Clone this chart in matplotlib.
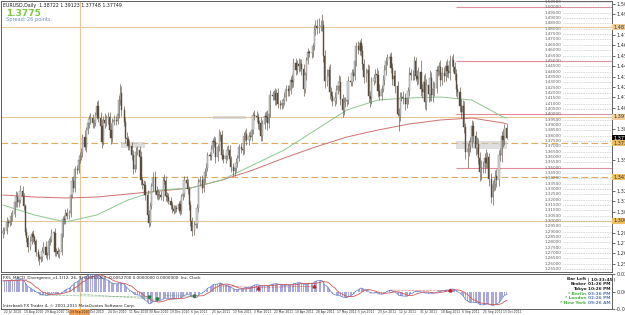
import numpy as np
import pandas as pd
import matplotlib
matplotlib.use("Agg")
import matplotlib.pyplot as plt
from matplotlib.patches import Rectangle

# ---------------- data ----------------
start_date = "2010-07-22"
end_date = "2011-10-17"

# warm-up closes (7 Jun - 21 Jul 2010), only used for the MACD
pre_closes = [1.1965, 1.1985, 1.1995, 1.2110, 1.2105, 1.2290, 1.2320, 1.2305, 1.2385, 1.2390,
              1.2300, 1.2290, 1.2315, 1.2305, 1.2380, 1.2275, 1.2195, 1.2235, 1.2515, 1.2570,
              1.2555, 1.2630, 1.2635, 1.2705, 1.2635, 1.2600, 1.2735, 1.2750, 1.2940, 1.2935,
              1.2945, 1.2880, 1.2770]

first_open = 1.2885
# daily closes, one row per week
closes = [
    1.2905, 1.2910,
    1.2990, 1.2985, 1.2995, 1.3045, 1.3065,
    1.3175, 1.3225, 1.3180, 1.3200, 1.3280,
    1.3230, 1.3140, 1.2895, 1.2840, 1.2755,
    1.2815, 1.2880, 1.2845, 1.2815, 1.2710,
    1.2665, 1.2645, 1.2665, 1.2720, 1.2760,
    1.2680, 1.2680, 1.2815, 1.2825, 1.2890,
    1.2890, 1.2710, 1.2720, 1.2690, 1.2710,
    1.2875, 1.3020, 1.3010, 1.3075, 1.3050,
    1.3070, 1.3240, 1.3370, 1.3310, 1.3490,
    1.3480, 1.3575, 1.3610, 1.3635, 1.3790,
    1.3690, 1.3850, 1.3920, 1.3955, 1.3960,
    1.3915, 1.3920, 1.3990, 1.4075, 1.3965,
    1.3885, 1.3740, 1.3950, 1.3920, 1.3950,
    1.3975, 1.3855, 1.3775, 1.3930, 1.3945,
    1.3935, 1.4000, 1.4130, 1.4200, 1.4035,
    1.3930, 1.3775, 1.3765, 1.3705, 1.3700,
    1.3620, 1.3490, 1.3525, 1.3650, 1.3665,
    1.3595, 1.3380, 1.3350, 1.3335, 1.3240,
    1.3055, 1.2985, 1.3140, 1.3325, 1.3405,
    1.3285, 1.3245, 1.3240, 1.3245, 1.3225,
    1.3385, 1.3375, 1.3230, 1.3225, 1.3190,
    1.3145, 1.3110, 1.3095, 1.3125, 1.3110,
    1.3155, 1.3095, 1.3230, 1.3255, 1.3380,
    1.3355, 1.3300, 1.3150, 1.3000, 1.2910,
    1.2965, 1.2975, 1.3125, 1.3365, 1.3380,
    1.3310, 1.3395, 1.3460, 1.3495, 1.3615,
    1.3610, 1.3675, 1.3745, 1.3740, 1.3595,
    1.3695, 1.3805, 1.3805, 1.3620, 1.3580,
    1.3605, 1.3660, 1.3665, 1.3580, 1.3505,
    1.3465, 1.3495, 1.3545, 1.3590, 1.3690,
    1.3670, 1.3665, 1.3795, 1.3810, 1.3755,
    1.3795, 1.3790, 1.3855, 1.3990, 1.3985,
    1.3975, 1.3905, 1.3915, 1.3795, 1.3905,
    1.3985, 1.3975, 1.3915, 1.4005, 1.4180,
    1.4170, 1.4200, 1.4135, 1.4195, 1.4095,
    1.4085, 1.4105, 1.4125, 1.4160, 1.4235,
    1.4215, 1.4225, 1.4325, 1.4300, 1.4480,
    1.4415, 1.4475, 1.4450, 1.4475, 1.4425,
    1.4235, 1.4365, 1.4505, 1.4580, 1.4570,
    1.4575, 1.4635, 1.4790, 1.4830, 1.4805,
    1.4825, 1.4830, 1.4835, 1.4545, 1.4315,
    1.4360, 1.4415, 1.4205, 1.4175, 1.4120,
    1.4150, 1.4230, 1.4265, 1.4305, 1.4145,
    1.4035, 1.4115, 1.4120, 1.4130, 1.4315,
    1.4305, 1.4385, 1.4360, 1.4495, 1.4635,
    1.4600, 1.4665, 1.4595, 1.4475, 1.4345,
    1.4390, 1.4410, 1.4175, 1.4140, 1.4310,
    1.4335, 1.4380, 1.4365, 1.4220, 1.4175,
    1.4240, 1.4320, 1.4410, 1.4500, 1.4530,
    1.4535, 1.4435, 1.4330, 1.4360, 1.4260,
    1.4000, 1.3990, 1.4165, 1.4165, 1.4155,
    1.4100, 1.4150, 1.4215, 1.4385, 1.4365,
    1.4370, 1.4500, 1.4360, 1.4330, 1.4395,
    1.4235, 1.4205, 1.4305, 1.4115, 1.4275,
    1.4185, 1.4335, 1.4180, 1.4235, 1.4245,
    1.4410, 1.4405, 1.4440, 1.4320, 1.4390,
    1.4355, 1.4450, 1.4405, 1.4385, 1.4495,
    1.4505, 1.4445, 1.4375, 1.4235, 1.4205,
    1.4080, 1.4020, 1.4075, 1.3880, 1.3650,
    1.3670, 1.3705, 1.3740, 1.3890, 1.3795,
    1.3685, 1.3720, 1.3590, 1.3455, 1.3500,
    1.3505, 1.3590, 1.3545, 1.3595, 1.3390,
    1.3225, 1.3340, 1.3345, 1.3420, 1.3380,
    1.3620, 1.3615, 1.3795, 1.3760, 1.3870,
    1.3775,
]

# upper / lower wick length in pips
wick_up = [
    40, 35,
    45, 30, 25, 40, 35,  40, 55, 45, 30, 60,  50, 30, 20, 35, 25,  40, 30, 35, 25, 20,
    30, 25, 45, 35, 40,  50, 30, 25, 35, 30,  20, 40, 30, 35, 25,  30, 25, 40, 35, 45,
    30, 35, 40, 50, 25,  30, 40, 35, 45, 25,  60, 30, 45, 35, 50,  40, 35, 30, 50, 60,
    55, 70, 35, 60, 40,  45, 50, 60, 35, 45,  40, 35, 50, 80, 60,  45, 40, 60, 35, 50,
    40, 45, 50, 40, 35,  40, 60, 30, 35, 40,  50, 45, 40, 35, 50,  60, 40, 50, 35, 40,
    30, 50, 45, 40, 35,  35, 30, 40, 25, 20,  30, 40, 25, 35, 40,  45, 40, 30, 35, 40,
    30, 45, 35, 40, 45,  50, 35, 40, 45, 30,  35, 40, 30, 50, 45,  30, 55, 40, 45, 50,
    35, 40, 45, 50, 30,  40, 35, 45, 30, 35,  40, 50, 35, 40, 60,  35, 45, 40, 30, 50,
    45, 40, 35, 60, 40,  35, 45, 60, 40, 50,  40, 30, 45, 40, 50,  35, 40, 30, 45, 40,
    40, 45, 35, 50, 45,  45, 35, 50, 40, 40,  50, 35, 30, 40, 25,  35, 30, 45, 50, 60,
    80, 50, 105, 45, 55, 60, 40, 55, 50, 45,  55, 40, 45, 60, 50,  40, 50, 45, 55, 40,
    45, 35, 40, 50, 40,  55, 30, 45, 50, 45,  40, 60, 55, 45, 35,  40, 45, 50, 45, 60,
    35, 45, 50, 40, 35,  40, 50, 45, 55, 50,  50, 60, 45, 40, 55,  45, 50, 40, 55, 35,
    40, 45, 40, 50, 45,  110, 50, 60, 80, 55, 60, 75, 65, 80, 55,  40, 50, 45, 70, 50,
    50, 45, 70, 60, 60,  40, 55, 45, 50, 45,  50, 60, 55, 50, 40,  60, 55, 50, 60, 45,
    50, 65, 55, 60, 70,  60, 50, 85, 55, 40,  60, 45, 55, 60, 70,  45, 60, 50, 70, 40,
    40,
]
wick_dn = [
    45, 30,
    30, 40, 35, 30, 45,  25, 40, 50, 45, 35,  40, 35, 30, 40, 50,  25, 35, 40, 30, 35,
    40, 58, 30, 45, 25,  30, 45, 35, 40, 25,  30, 35, 40, 30, 35,  25, 30, 35, 40, 30,
    35, 30, 25, 40, 35,  40, 35, 30, 40, 35,  30, 40, 35, 45, 50,  45, 40, 30, 35, 40,
    40, 55, 30, 45, 35,  40, 45, 50, 40, 35,  35, 30, 40, 45, 50,  40, 45, 50, 40, 35,
    45, 50, 35, 40, 30,  40, 45, 50, 35, 40,  40, 45, 35, 30, 40,  35, 40, 45, 35, 30,
    40, 35, 40, 45, 35,  30, 35, 30, 25, 30,  35, 40, 30, 35, 30,  40, 45, 50, 45, 50,
    40, 35, 45, 40, 35,  45, 40, 35, 40, 30,  40, 35, 40, 45, 50,  35, 40, 55, 45, 40,
    40, 35, 45, 40, 50,  45, 40, 35, 40, 30,  35, 50, 40, 45, 40,  40, 35, 45, 40, 35,
    45, 40, 55, 50, 45,  40, 45, 65, 40, 35,  35, 40, 50, 45, 40,  40, 35, 45, 40, 35,
    40, 45, 35, 50, 45,  45, 40, 50, 45, 55,  60, 35, 40, 35, 30,  40, 35, 30, 45, 50,
    40, 45, 50, 60, 70,  50, 45, 60, 55, 40,  45, 50, 40, 45, 55,  60, 45, 50, 40, 35,
    40, 45, 50, 35, 40,  40, 45, 50, 55, 50,  45, 50, 60, 70, 45,  40, 45, 50, 55, 45,
    40, 35, 45, 40, 35,  40, 45, 55, 50, 60,  20, 150, 50, 45, 55, 60, 45, 50, 40, 45,
    40, 45, 50, 55, 45,  60, 55, 50, 70, 80,  70, 60, 55, 65, 60,  45, 50, 40, 55, 45,
    50, 45, 55, 50, 60,  45, 50, 55, 60, 50,  55, 60, 50, 60, 70,  155, 60, 55, 50, 60,
    65, 55, 60, 80, 75,  55, 60, 50, 45, 65,  60, 80, 60, 55, 60,  50, 55, 60, 65, 45,
    10,
]

# moving averages sampled every 20 bars (plus the last bar)
ma_bars = [0, 20, 40, 60, 80, 100, 120, 140, 160, 180, 200, 220, 240, 260, 280, 300, 320, 322]
ma_slow = [1.3243, 1.3224, 1.3215, 1.3224, 1.3252, 1.3280, 1.3308, 1.3383, 1.3477,
           1.3590, 1.3693, 1.3786, 1.3852, 1.3908, 1.3946, 1.3964, 1.3918, 1.3908]
ma_fast = [1.3149, 1.3056, 1.2990, 1.3056, 1.3196, 1.3290, 1.3308, 1.3383, 1.3524,
           1.3665, 1.3852, 1.4039, 1.4133, 1.4152, 1.4161, 1.4133, 1.3974, 1.3964]

full_levels = [1.4815, 1.3975, 1.3000]        # tan lines
dashed_levels = [1.3730, 1.3410]              # orange dashed
pink_levels = [1.5000, 1.4500, 1.4000, 1.3500]
pink_from = "2011-09-01"
vline_date = "2010-09-29"

grid_labels = [1.505, 1.500, 1.495, 1.490, 1.485, 1.480, 1.475, 1.470, 1.465, 1.460,
               1.455, 1.450, 1.445, 1.440, 1.435, 1.430, 1.425, 1.420, 1.415, 1.410,
               1.405, 1.400, 1.395, 1.390, 1.385, 1.380, 1.375, 1.370, 1.365, 1.360,
               1.355, 1.350, 1.345, 1.340, 1.335, 1.330, 1.325, 1.320, 1.315, 1.310,
               1.305, 1.300, 1.295, 1.290, 1.285, 1.280, 1.275, 1.270, 1.265, 1.260, 1.255]
axis_ticks = [1.5035, 1.4937, 1.4742, 1.4645, 1.4547, 1.4450, 1.4352, 1.4255,
              1.4157, 1.4060, 1.3865, 1.3572, 1.3280, 1.3182, 1.3085,
              1.2890, 1.2792, 1.2695, 1.2597]

# grey label boxes: start date, end date, top, bottom
boxes = [("2011-09-01", "2011-10-17", 1.3746, 1.3671),
         ("2010-11-05", "2010-11-26", 1.3735, 1.3685),
         ("2011-01-26", "2011-02-25", 1.3985, 1.3955)]

date_labels = ["22 Jul 2010", "10 Aug 2010", "29 Aug 2010", "16 Sep 2010", "5 Oct 2010",
               "24 Oct 2010", "11 Nov 2010", "30 Nov 2010", "19 Dec 2010", "6 Jan 2011",
               "25 Jan 2011", "13 Feb 2011", "3 Mar 2011", "22 Mar 2011", "10 Apr 2011",
               "28 Apr 2011", "17 May 2011", "5 Jun 2011", "23 Jun 2011", "12 Jul 2011",
               "31 Jul 2011", "18 Aug 2011", "6 Sep 2011", "25 Sep 2011", "13 Oct 2011"]

# divergence lines in the MACD window: (date a, value a, date b, value b)
div_green = [("2010-08-24", -0.0045, "2010-11-30", -0.0075),
             ("2010-09-29", -0.0030, "2010-12-07", -0.0110),
             ("2010-12-14", -0.0050, "2011-01-10", -0.0065)]
div_red = [("2011-02-01", 0.0095, "2011-03-08", 0.0070),
           ("2011-03-08", 0.0070, "2011-04-27", 0.0090),
           ("2011-07-04", 0.0030, "2011-08-26", 0.0025)]

# ---------------- positions ----------------
bar_dates = pd.bdate_range(start_date, end_date)
n = min(len(bar_dates), len(closes), len(wick_up), len(wick_dn))
bar_dates = bar_dates[:n]
cal = pd.date_range(start_date, "2012-03-01", freq="D")
cal = cal[cal.weekday != 5]
slot = pd.Series(np.arange(len(cal)), index=cal)


def xpos(d):
    d = pd.Timestamp(d)
    while d not in slot.index:
        d += pd.Timedelta(days=1)
    return slot[d]


x = np.array([xpos(d) for d in bar_dates], dtype=float)
c = np.array(closes[:n])
o = np.concatenate([[first_open], c[:-1]])
hi = np.maximum(o, c) + np.array(wick_up[:n]) / 10000
lo = np.minimum(o, c) - np.array(wick_dn[:n]) / 10000

allc = pd.Series(pre_closes + list(c))
macd = allc.ewm(span=12, adjust=False).mean() - allc.ewm(span=26, adjust=False).mean()
signal = macd.rolling(9, min_periods=1).mean()
macd = macd.values[len(pre_closes):]
signal = signal.values[len(pre_closes):]

# ---------------- figure ----------------
W, H = 625, 315
fig = plt.figure(figsize=(W / 100, H / 100), dpi=100)
fig.patch.set_facecolor("white")


def box(x0, y0, x1, y1):
    return [x0 / W, 1 - y1 / H, (x1 - x0) / W, (y1 - y0) / H]


ax = fig.add_axes(box(1, 1, 612, 272))
axm = fig.add_axes(box(1, 274, 612, 309), sharex=ax)
x_left, x_right = (1 - 3) / 1.302, (612 - 3) / 1.302
ax.set_xlim(x_left, x_right)
ax.set_ylim(1.25214, 1.50607)
axm.set_ylim(-0.0257, 0.0276)

for a in (ax, axm):
    a.set_facecolor("white")
    for s in a.spines.values():
        s.set_color("#606060")
        s.set_linewidth(0.7)
    a.tick_params(axis="x", bottom=False, labelbottom=False)
    a.yaxis.tick_right()
    a.tick_params(axis="y", labelsize=3.6, length=2, width=0.5, pad=1, colors="#303030")

# horizontal level lines
for lv in full_levels:
    ax.axhline(lv, color="#e8c898", lw=0.8, zorder=1)
for lv in dashed_levels:
    ax.axhline(lv, color="#e0a860", lw=0.8, ls=(0, (6, 3)), zorder=1)
for lv in pink_levels:
    ax.hlines(lv, xpos(pink_from), x_right, color="#e58a98", lw=0.8, zorder=1)
for a in (ax, axm):
    a.axvline(xpos(vline_date), color="#e8c898", lw=0.8, zorder=1)

# grey boxes
for d0, d1, top, bot in boxes:
    ax.add_patch(Rectangle((xpos(d0), bot), xpos(d1) - xpos(d0), top - bot,
                           facecolor="#c8c8c8", alpha=0.6, edgecolor="none", zorder=1.5))

# inner price-level column
for lv in grid_labels:
    ax.text(558 / 1.302, lv, f"{lv:.5f}", fontsize=3.0, color="#606060",
            ha="right", va="center", zorder=3)
    ax.hlines(lv, 560 / 1.302, x_right, color="#b0b0b0", lw=0.5, ls=(0, (1, 1.5)), zorder=1)

# moving averages
ax.plot(x[ma_bars], ma_slow, color="#d07070", lw=0.7, zorder=2)
ax.plot(x[ma_bars], ma_fast, color="#8cc88c", lw=0.7, zorder=2)

# candles
up = c >= o
ax.vlines(x, lo, hi, color="#6a6258", lw=0.5, zorder=3)
body_lo = np.minimum(o, c)
body_h = np.maximum(np.abs(c - o), 0.0002)
ax.bar(x[up], body_h[up], bottom=body_lo[up], width=0.9, color="#d8d8d8",
       edgecolor="#7a7a7a", linewidth=0.3, zorder=4)
ax.bar(x[~up], body_h[~up], bottom=body_lo[~up], width=0.9, color="#5a4c3c",
       edgecolor="#5a4c3c", linewidth=0.3, zorder=4)

# right axis
ax.set_yticks(axis_ticks)
ax.set_yticklabels([f"{t:.5f}" for t in axis_ticks])
hl = [(1.4815, "#f0d098", "#303030"), (1.3975, "#f0d098", "#303030"),
      (1.3775, "#000000", "#ffffff"), (1.3730, "#f0c060", "#303030"),
      (1.3410, "#f0c060", "#303030"), (1.3000, "#f0c060", "#303030")]
for lv, fc, tc in hl:
    ax.text(1.002, lv, f"{lv:.5f}", transform=ax.get_yaxis_transform(), fontsize=3.6,
            color=tc, va="center", ha="left", clip_on=False,
            bbox=dict(boxstyle="square,pad=0.15", fc=fc, ec="none"), zorder=6)

# header texts
ax.text(0.004, 0.992, "EURUSD,Daily  1.38722 1.39123 1.37748 1.37749", transform=ax.transAxes,
        fontsize=3.4, color="#202020", va="top")
ax.text(0.009, 0.972, "1.3775", transform=ax.transAxes, fontsize=6.5, color="#7cc83c",
        fontweight="bold", va="top")
ax.text(0.009, 0.942, "Spread: 26 points.", transform=ax.transAxes, fontsize=3.6,
        color="#7090b8", va="top")

# ---------------- MACD window ----------------
axm.bar(x, macd, width=0.75, color="#a8a8dc", edgecolor="none", zorder=2)
axm.plot(x, macd, color="#6080d0", lw=0.5, zorder=3)
axm.plot(x, signal, color="#d05858", lw=0.6, zorder=3)
for d0, v0, d1, v1 in div_green:
    axm.plot([xpos(d0), xpos(d1)], [v0, v1], color="#60a060", lw=0.5, ls=(0, (1, 1)), zorder=4)
    axm.plot([xpos(d1)], [v1], marker="v", ms=2, color="#208040", zorder=5)
for d0, v0, d1, v1 in div_red:
    axm.plot([xpos(d0), xpos(d1)], [v0, v1], color="#d04040", lw=0.5, ls=(0, (1, 1)), zorder=4)
    axm.plot([xpos(d1)], [v1], marker="^", ms=2, color="#c02020", zorder=5)
axm.set_yticks([0.0276, 0.0, -0.0257])
axm.set_yticklabels(["0.0276", "0.00", "-0.0257"])
axm.text(0.004, 0.93, "FX5_MACD_Divergence_v1.1(12, 26, 9) 0.0053260 -0.0052700 0.0000000 "
         "0.0000000  Inc. Clock", transform=axm.transAxes, fontsize=3.0, color="#202020", va="top")
axm.text(0.004, 0.04, "Interbank FX Trader 4, \u00a9 2001-2011 MetaQuotes Software Corp.",
         transform=axm.transAxes, fontsize=3.0, color="#202020", va="bottom")

clock_names = ["Bar Left", "Broker", "Tokyo", "* Berlin", "* London", "* New York"]
clock_times = ["| 10:33:45 |", "01:26 PM", "10:26 PM", "03:26 PM", "02:26 PM", "09:26 AM"]
name_cols = ["#202020", "#202020", "#202020", "#40b040", "#40b040", "#40b040"]
time_cols = ["#202020", "#202020", "#202020", "#5a7ab8", "#5a7ab8", "#5a7ab8"]
for i, (nm, tm) in enumerate(zip(clock_names, clock_times)):
    yy = 0.9 - i * 0.135
    axm.text(0.958, yy, nm, transform=axm.transAxes, fontsize=3.1, color=name_cols[i],
             ha="right", va="top", fontweight="bold")
    axm.text(0.961, yy, tm, transform=axm.transAxes, fontsize=3.1, color=time_cols[i],
             ha="left", va="top", fontweight="bold")

# date labels
label_dates = pd.to_datetime(date_labels, format="%d %b %Y")
for d, lab in zip(label_dates, date_labels):
    xp = xpos(d)
    axm.text(xp + 0.4, -0.08, lab, transform=axm.get_xaxis_transform(), fontsize=2.2,
             color="#303030", ha="left", va="center", clip_on=False)
axm.text(xpos(vline_date), -0.08, "29 Sep 2010", transform=axm.get_xaxis_transform(),
         fontsize=2.2, color="#303030", ha="center", va="center", clip_on=False,
         bbox=dict(boxstyle="square,pad=0.25", fc="#f0a050", ec="none"), zorder=6)

fig.savefig("out.png", dpi=100)
